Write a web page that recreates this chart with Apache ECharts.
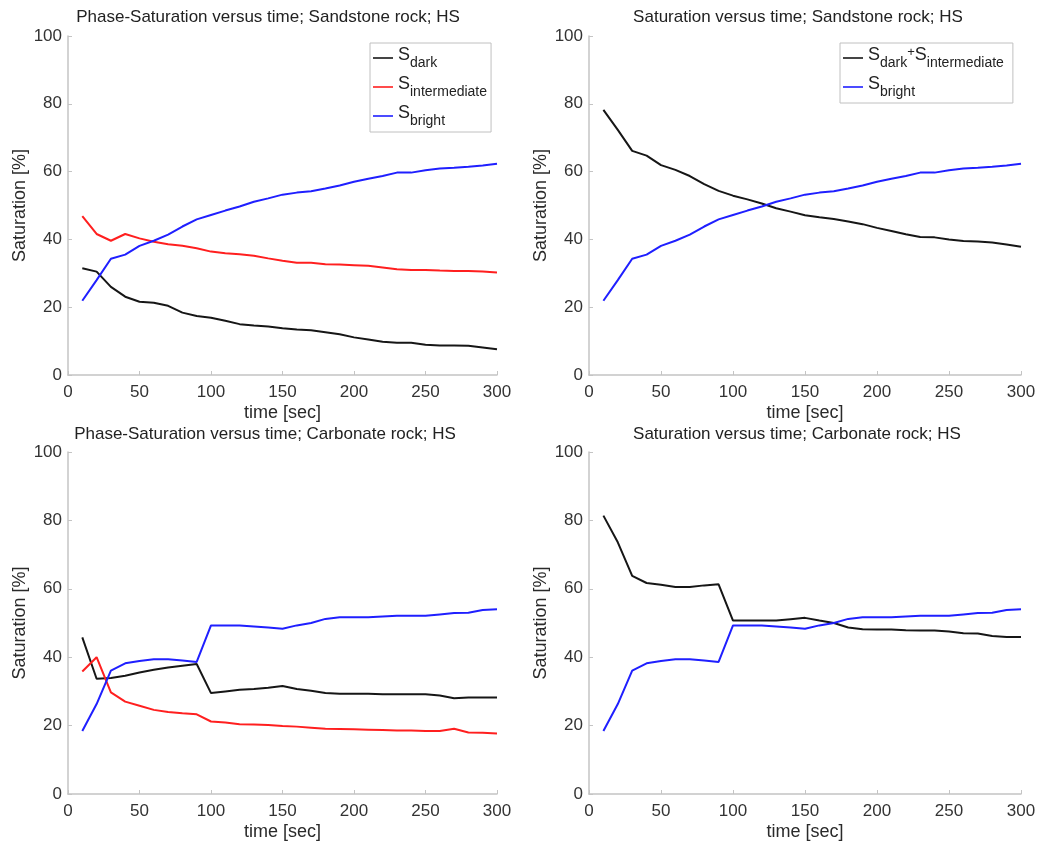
<!DOCTYPE html>
<html>
<head>
<meta charset="utf-8">
<script src="https://cdn.jsdelivr.net/npm/echarts@6/dist/echarts.min.js"></script>
<style>
  html, body { margin: 0; padding: 0; background: #fff; }
  #main { width: 1039px; height: 841px; }
</style>
</head>
<body>
<div id="main"></div>
<script>
var time = [10, 20, 30, 40, 50, 60, 70, 80, 90, 100, 110, 120, 130, 140, 150,
            160, 170, 180, 190, 200, 210, 220, 230, 240, 250, 260, 270, 280, 290, 300];

// sandstone rock
var sandDark = [31.5, 30.5, 26.0, 23.1, 21.6, 21.3, 20.4, 18.4, 17.4, 16.9, 16.0, 15.0, 14.6, 14.3, 13.8,
                13.4, 13.2, 12.6, 12.0, 11.1, 10.5, 9.8, 9.5, 9.5, 8.9, 8.7, 8.7, 8.6, 8.1, 7.6];
var sandInter = [46.9, 41.6, 39.6, 41.6, 40.3, 39.3, 38.6, 38.1, 37.4, 36.4, 35.9, 35.6, 35.2, 34.4, 33.7,
                 33.1, 33.1, 32.7, 32.6, 32.4, 32.2, 31.7, 31.2, 31.0, 31.0, 30.8, 30.7, 30.7, 30.5, 30.2];
var sandBright = [21.9, 28.0, 34.3, 35.5, 38.1, 39.6, 41.4, 43.8, 45.9, 47.2, 48.5, 49.7, 51.1, 52.1, 53.2,
                  53.8, 54.2, 55.0, 55.9, 57.0, 57.9, 58.7, 59.7, 59.7, 60.4, 60.9, 61.1, 61.4, 61.8, 62.3];
var sandDarkInter = [78.2, 72.3, 66.1, 64.7, 61.9, 60.5, 58.7, 56.3, 54.3, 52.9, 51.8, 50.6, 49.2, 48.2, 47.1,
                     46.5, 46.0, 45.3, 44.5, 43.4, 42.5, 41.5, 40.7, 40.6, 40.0, 39.5, 39.4, 39.1, 38.5, 37.8];

// carbonate rock
var carbDark = [45.8, 33.7, 33.9, 34.6, 35.5, 36.3, 37.0, 37.5, 38.0, 29.5, 30.0, 30.5, 30.7, 31.1, 31.6,
                30.7, 30.2, 29.5, 29.3, 29.3, 29.3, 29.2, 29.2, 29.2, 29.2, 28.8, 28.0, 28.2, 28.2, 28.2];
var carbInter = [35.8, 40.0, 29.7, 27.0, 25.8, 24.6, 24.0, 23.6, 23.3, 21.2, 20.9, 20.4, 20.3, 20.2, 19.9,
                 19.7, 19.4, 19.1, 19.0, 18.9, 18.8, 18.7, 18.6, 18.6, 18.4, 18.4, 19.1, 18.0, 17.9, 17.7];
var carbBright = [18.4, 26.3, 36.1, 38.2, 38.9, 39.4, 39.4, 39.0, 38.6, 49.3, 49.3, 49.3, 49.0, 48.7, 48.3,
                  49.3, 50.0, 51.2, 51.7, 51.7, 51.7, 51.9, 52.1, 52.1, 52.1, 52.5, 52.9, 53.0, 53.8, 54.0];
var carbDarkInter = [81.4, 73.6, 63.8, 61.7, 61.2, 60.5, 60.5, 61.0, 61.3, 50.7, 50.7, 50.7, 50.7, 51.1, 51.5,
                     50.7, 50.0, 48.7, 48.2, 48.1, 48.1, 47.9, 47.8, 47.8, 47.5, 47.0, 46.9, 46.2, 45.9, 45.9];

var titles = [
    "Phase-Saturation versus time; Sandstone rock; HS",
    "Saturation versus time; Sandstone rock; HS",
    "Phase-Saturation versus time; Carbonate rock; HS",
    "Saturation versus time; Carbonate rock; HS"
];

var FONT = "Liberation Sans, Arial, sans-serif";
var BLACK = "#161616", RED = "#ff1f1f", BLUE = "#1f1fff";

function pairs(vals) {
    return time.map(function(t, i) { return [t, vals[i]]; });
}

function xAxisOf(i) {
    return {
        gridIndex: i,
        type: "value",
        min: 0, max: 300, interval: 50,
        name: "time [sec]",
        nameLocation: "middle",
        nameGap: 29,
        nameTextStyle: { fontFamily: FONT, fontSize: 18, color: "#2a2a2a" },
        axisLine: { lineStyle: { color: "#c4c4c4", width: 1.5 } },
        axisTick: { inside: true, length: 4, lineStyle: { color: "#c4c4c4" } },
        axisLabel: { margin: 9, fontFamily: FONT, fontSize: 17, color: "#333" },
        splitLine: { show: false }
    };
}

function yAxisOf(i) {
    return {
        gridIndex: i,
        type: "value",
        min: 0, max: 100, interval: 20,
        name: "Saturation [%]",
        nameLocation: "middle",
        nameGap: 39,
        nameTextStyle: { fontFamily: FONT, fontSize: 18, color: "#2a2a2a" },
        axisLine: { show: true, lineStyle: { color: "#c4c4c4", width: 1.5 } },
        axisTick: { show: true, inside: true, length: 4, lineStyle: { color: "#c4c4c4" } },
        axisLabel: { margin: 6, fontFamily: FONT, fontSize: 17, color: "#333" },
        splitLine: { show: false }
    };
}

function line(name, vals, color, i) {
    return {
        name: name,
        type: "line",
        xAxisIndex: i,
        yAxisIndex: i,
        data: pairs(vals),
        symbol: "none",
        color: color,
        lineStyle: { color: color, width: 2 },
        animation: false
    };
}

var legendRich = {
    s: { fontFamily: FONT, fontSize: 18, lineHeight: 19, verticalAlign: "top", color: "#222" },
    sub: { fontFamily: FONT, fontSize: 14, lineHeight: 24, verticalAlign: "bottom", color: "#222" },
    plus: { fontFamily: FONT, fontSize: 13, lineHeight: 14, verticalAlign: "top", color: "#222" }
};

var legendText = {
    "S_dark": "{s|S}{sub|dark}",
    "S_intermediate": "{s|S}{sub|intermediate}",
    "S_bright": "{s|S}{sub|bright}",
    "S_dark+S_intermediate": "{s|S}{sub|dark}{plus|+}{s|S}{sub|intermediate}"
};

function legendOf(names, left, padRight) {
    return {
        orient: "vertical",
        left: left,
        top: 43,
        data: names,
        icon: "rect",
        itemWidth: 20,
        itemHeight: 1.6,
        itemGap: 5,
        padding: [3, padRight, 4, 3],
        borderColor: "#c0c0c0",
        borderWidth: 1,
        backgroundColor: "#fff",
        selectedMode: false,
        formatter: function(name) { return legendText[name]; },
        textStyle: { rich: legendRich }
    };
}

var chart = echarts.init(document.getElementById("main"), null, { renderer: "canvas" });

var option = {
    backgroundColor: "#fff",
    animation: false,
    title: [
        { text: titles[0], left: 268, top: 9, textAlign: "center" },
        { text: titles[1], left: 798, top: 9, textAlign: "center" },
        { text: titles[2], left: 265, top: 426, textAlign: "center" },
        { text: titles[3], left: 797, top: 426, textAlign: "center" }
    ].map(function(t) {
        t.padding = 0;
        t.textStyle = { fontFamily: FONT, fontSize: 17, fontWeight: "normal", color: "#222" };
        return t;
    }),
    legend: [
        legendOf(["S_dark", "S_intermediate", "S_bright"], 370, 4),
        legendOf(["S_dark+S_intermediate", "S_bright"], 840, 9)
    ],
    grid: [
        { left: 68, top: 36, width: 429, height: 339, outerBoundsMode: "none" },
        { left: 589, top: 36, width: 432, height: 339, outerBoundsMode: "none" },
        { left: 68, top: 452, width: 429, height: 342, outerBoundsMode: "none" },
        { left: 589, top: 452, width: 432, height: 342, outerBoundsMode: "none" }
    ],
    xAxis: [xAxisOf(0), xAxisOf(1), xAxisOf(2), xAxisOf(3)],
    yAxis: [yAxisOf(0), yAxisOf(1), yAxisOf(2), yAxisOf(3)],
    series: [
        line("S_dark", sandDark, BLACK, 0),
        line("S_intermediate", sandInter, RED, 0),
        line("S_bright", sandBright, BLUE, 0),
        line("S_dark+S_intermediate", sandDarkInter, BLACK, 1),
        line("S_bright", sandBright, BLUE, 1),
        line("S_dark", carbDark, BLACK, 2),
        line("S_intermediate", carbInter, RED, 2),
        line("S_bright", carbBright, BLUE, 2),
        line("S_dark+S_intermediate", carbDarkInter, BLACK, 3),
        line("S_bright", carbBright, BLUE, 3)
    ]
};

chart.setOption(option);
</script>
</body>
</html>
